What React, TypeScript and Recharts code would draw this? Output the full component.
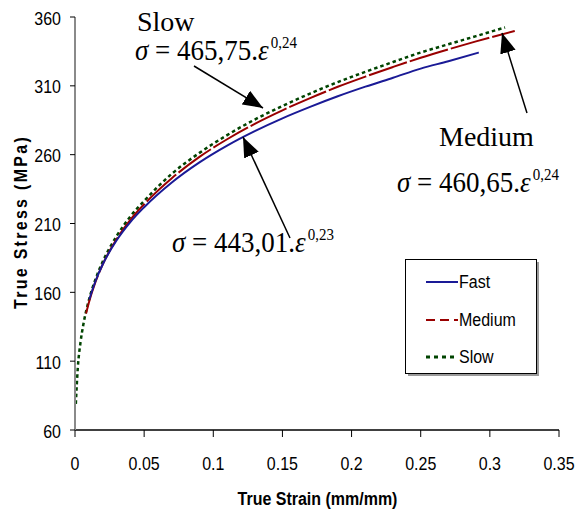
import React from 'react';
import { LineChart, Line, XAxis, YAxis, Legend } from 'recharts';

// ---- data ----
const strainFast = [0.0103, 0.015, 0.02, 0.03, 0.04, 0.05, 0.07, 0.09, 0.11, 0.13, 0.15, 0.17, 0.19, 0.21, 0.23, 0.25, 0.27, 0.292];
const stressFast = [154.8, 168.6, 180.2, 197.6, 211.0, 221.8, 239.8, 254.4, 266.6, 277.1, 286.4, 294.7, 302.4, 309.4, 315.9, 322.5, 327.9, 334.2];

const strainMedium = [0.008, 0.01, 0.015, 0.02, 0.03, 0.04, 0.05, 0.07, 0.09, 0.11, 0.13, 0.15, 0.17, 0.19, 0.21, 0.23, 0.25, 0.27, 0.29, 0.318];
const stressMedium = [144.6, 152.5, 168.1, 180.2, 198.5, 212.7, 224.0, 242.9, 258.4, 271.2, 282.4, 292.2, 301.1, 309.3, 316.7, 323.7, 330.4, 336.5, 342.3, 349.8];

const strainSlow = [0.0006, 0.002, 0.004, 0.006, 0.01, 0.015, 0.02, 0.03, 0.04, 0.05, 0.07, 0.09, 0.11, 0.13, 0.15, 0.17, 0.19, 0.21, 0.23, 0.25, 0.27, 0.29, 0.311];
const stressSlow = [79.0, 104.8, 123.8, 136.4, 154.2, 170.0, 182.2, 200.7, 215.1, 226.4, 246.1, 261.3, 274.2, 285.5, 295.4, 304.4, 312.7, 320.2, 327.3, 334.2, 340.2, 346.1, 352.4];

const xTicks = [0, 0.05, 0.1, 0.15, 0.2, 0.25, 0.3, 0.35];
const yTicks = [60, 110, 160, 210, 260, 310, 360];
const seriesNames = ['Fast', 'Medium', 'Slow'];
const xTitle = 'True Strain (mm/mm)';
const yTitle = 'True Stress (MPa)';

const toPoints = (xs: number[], ys: number[]) => xs.map((x, i) => ({ x, y: ys[i] }));
const fastData = toPoints(strainFast, stressFast);
const mediumData = toPoints(strainMedium, stressMedium);
const slowData = toPoints(strainSlow, stressSlow);

const C_FAST = '#1a1a96';
const C_MED = '#990000';
const C_SLOW = '#004400';
const SANS = '"Liberation Sans", Arial, sans-serif';
const SERIF = '"Liberation Serif", "Times New Roman", serif';

const XTick = (props: any) => {
  const { x, payload } = props;
  return (
    <text transform={`translate(${x},470) scale(1,1.12)`} textAnchor="middle" fontFamily={SANS} fontSize={16} fill="#000">
      {String(payload.value)}
    </text>
  );
};

const YTick = (props: any) => {
  const { y, payload } = props;
  return (
    <text transform={`translate(61,${y + 7.5}) scale(1,1.12)`} textAnchor="end" fontFamily={SANS} fontSize={16} fill="#000">
      {String(payload.value)}
    </text>
  );
};

const LegendBox = () => {
  const styles = [
    { color: C_FAST, dash: undefined as string | undefined, w: 2 },
    { color: C_MED, dash: '9 5', w: 2 },
    { color: C_SLOW, dash: '4 4', w: 3 },
  ];
  const rows = [23, 61, 98];
  return (
    <svg width={137} height={120} style={{ display: 'block' }}>
      <rect x={3} y={3} width={131} height={114} fill="#9a9a9a" />
      <rect x={0.5} y={0.5} width={131} height={114} fill="#fff" stroke="#000" strokeWidth={1} />
      {seriesNames.map((n, i) => (
        <g key={n}>
          <line x1={21} x2={53} y1={rows[i]} y2={rows[i]} stroke={styles[i].color} strokeWidth={styles[i].w} strokeDasharray={styles[i].dash} />
          <text transform={`translate(54,${rows[i] + 6}) scale(1,1.12)`} fontFamily={SANS} fontSize={16} fill="#000">{n}</text>
        </g>
      ))}
    </svg>
  );
};

const Formula = ({ x, y, coef, exp, size = 27, sup = 15, supDy = -11 }: any) => (
  <text transform={`translate(${x},${y}) scale(1,1.08)`} fontFamily={SERIF} fontSize={size} fill="#000">
    <tspan fontStyle="italic">σ</tspan>
    <tspan> = {coef}.</tspan>
    <tspan fontStyle="italic">ε</tspan>
    <tspan fontSize={sup} dy={supDy} dx={2}>{exp}</tspan>
  </text>
);

export default function App() {
  return (
    <div style={{ position: 'absolute', left: 0, top: 0, width: 577, height: 510, background: '#fff' }}>
      <LineChart width={577} height={510} data={slowData} margin={{ top: 17, right: 18, left: 0, bottom: 0 }}>
        <XAxis
          dataKey="x"
          type="number"
          domain={[0, 0.35]}
          ticks={xTicks}
          allowDataOverflow
          height={80}
          tickSize={7}
          axisLine={{ stroke: '#000', strokeWidth: 1.5 }}
          tickLine={{ stroke: '#000', strokeWidth: 1 }}
          tick={(p: any) => <XTick {...p} />}
          interval={0}
        />
        <YAxis
          type="number"
          domain={[60, 360]}
          ticks={yTicks}
          allowDataOverflow
          width={75}
          tickSize={5}
          axisLine={{ stroke: '#8a8a8a', strokeWidth: 2 }}
          tickLine={{ stroke: '#000', strokeWidth: 1 }}
          tick={(p: any) => <YTick {...p} />}
          interval={0}
        />
        <Legend
          layout="vertical"
          align="center"
          verticalAlign="middle"
          wrapperStyle={{ position: 'absolute', left: 405, top: 259, width: 137, height: 120 }}
          content={() => <LegendBox />}
        />
        <Line name="Slow" data={slowData} dataKey="y" type="monotone" stroke={C_SLOW} strokeWidth={2.5} strokeDasharray="3.5 3" dot={false} isAnimationActive={false} />
        <Line name="Medium" data={mediumData} dataKey="y" type="monotone" stroke={C_MED} strokeWidth={2} strokeDasharray="40 3" dot={false} isAnimationActive={false} />
        <Line name="Fast" data={fastData} dataKey="y" type="monotone" stroke={C_FAST} strokeWidth={2} dot={false} isAnimationActive={false} />
      </LineChart>
      <svg width={577} height={510} style={{ position: 'absolute', left: 0, top: 0, pointerEvents: 'none' }}>
        <defs>
          <marker id="ah" viewBox="0 0 20 16" markerWidth={20} markerHeight={16} refX={20} refY={8} orient="auto" markerUnits="userSpaceOnUse">
            <path d="M0,0 L20,8 L0,16 z" fill="#000" />
          </marker>
        </defs>
        {/* axis titles */}
        <text transform="translate(26.5,222) rotate(-90) scale(1,1.12)" textAnchor="middle" fontFamily={SANS} fontSize={16} fontWeight="bold" letterSpacing={2.3} fill="#000">
          {yTitle}
        </text>
        <text transform="translate(317.5,505) scale(1,1.12)" textAnchor="middle" fontFamily={SANS} fontSize={16} fontWeight="bold" fill="#000">
          {xTitle}
        </text>
        {/* Slow annotation */}
        <text x={137} y={31} fontFamily={SERIF} fontSize={28} fill="#000">Slow</text>
        <Formula x={135} y={60} coef="465,75" exp="0,24" />
        <line x1={194} y1={66} x2={263} y2={108} stroke="#000" strokeWidth={1.5} markerEnd="url(#ah)" />
        {/* Medium annotation */}
        <text x={439} y={146} fontFamily={SERIF} fontSize={28} fill="#000">Medium</text>
        <Formula x={397} y={192} coef="460,65" exp="0,24" />
        <line x1={527} y1={113} x2={502} y2={33} stroke="#000" strokeWidth={1.5} markerEnd="url(#ah)" />
        {/* Fast annotation */}
        <Formula x={172} y={252} coef="443,01" exp="0,23" />
        <line x1={290} y1={238} x2={243} y2={137} stroke="#000" strokeWidth={1.5} markerEnd="url(#ah)" />
      </svg>
    </div>
  );
}
